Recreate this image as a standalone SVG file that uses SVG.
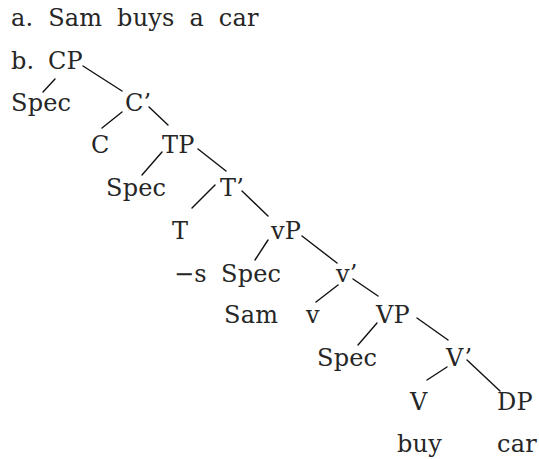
<svg xmlns="http://www.w3.org/2000/svg" width="539" height="459" viewBox="0 0 539 459">
<style>
text{font-family:"DejaVu Serif",serif;font-size:24px;letter-spacing:0.2px;fill:#262626}
#sentence text{word-spacing:7px}
#connectors line{stroke:#111;stroke-width:1.4;stroke-linecap:round}
</style>
<rect width="539" height="459" fill="#fff"/>
<g id="sentence"><text x="11" y="26">a. Sam buys a car</text></g>
<g id="label-b"><text x="11" y="69">b.</text></g>
<g id="connectors">
<line x1="55" y1="79" x2="43" y2="92"/>
<line x1="83" y1="66" x2="122" y2="91"/>
<line x1="122" y1="112" x2="102" y2="128"/>
<line x1="149" y1="107" x2="168" y2="125"/>
<line x1="162" y1="152" x2="142" y2="175"/>
<line x1="198" y1="149" x2="226" y2="171"/>
<line x1="215" y1="185" x2="192" y2="208"/>
<line x1="242" y1="191" x2="268" y2="216"/>
<line x1="268" y1="240" x2="255" y2="260"/>
<line x1="302" y1="236" x2="337" y2="263"/>
<line x1="338" y1="285" x2="316" y2="302"/>
<line x1="353" y1="279" x2="378" y2="296"/>
<line x1="377" y1="323" x2="358" y2="345"/>
<line x1="417" y1="318" x2="448" y2="340"/>
<line x1="447" y1="367" x2="427" y2="380"/>
<line x1="467" y1="360" x2="500" y2="391"/>
</g>
<g id="CP"><text x="48" y="69">CP</text></g>
<g id="Spec-CP"><text x="11" y="111">Spec</text></g>
<g id="Cbar"><text x="125" y="111">C’</text></g>
<g id="C"><text x="91" y="153">C</text></g>
<g id="TP"><text x="162" y="153">TP</text></g>
<g id="Spec-TP"><text x="106" y="196">Spec</text></g>
<g id="Tbar"><text x="220" y="196">T’</text></g>
<g id="T"><text x="172" y="239">T</text></g>
<g id="vP"><text x="271" y="239">vP</text></g>
<g id="T-s"><text x="174" y="282">−s</text></g>
<g id="Spec-vP"><text x="221" y="282">Spec</text></g>
<g id="vbar"><text x="336" y="282">v’</text></g>
<g id="Sam"><text x="224" y="323">Sam</text></g>
<g id="v"><text x="306" y="323">v</text></g>
<g id="VP"><text x="376" y="323">VP</text></g>
<g id="Spec-VP"><text x="317" y="366">Spec</text></g>
<g id="Vbar"><text x="446" y="366">V’</text></g>
<g id="V"><text x="410" y="410">V</text></g>
<g id="DP"><text x="497" y="410">DP</text></g>
<g id="buy"><text x="397" y="452">buy</text></g>
<g id="car"><text x="497" y="452">car</text></g>
</svg>
